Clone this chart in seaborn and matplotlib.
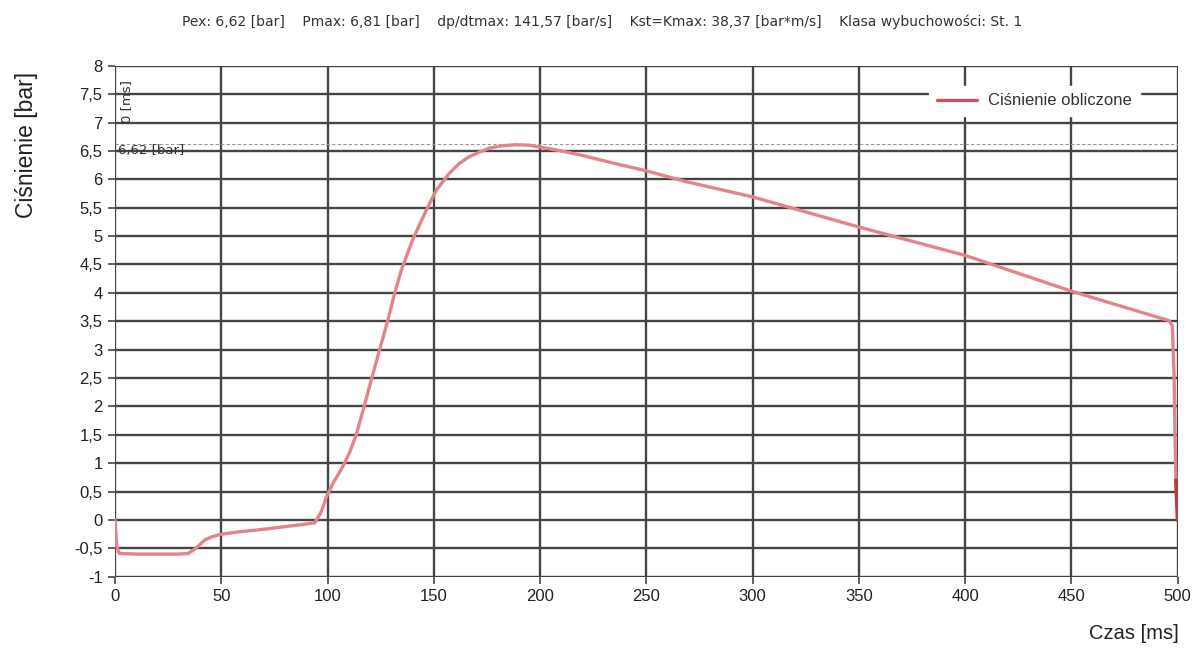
import matplotlib
matplotlib.use("Agg")
import matplotlib.pyplot as plt
import seaborn as sns
import pandas as pd

# data
time_ms = [0, 0.8, 2, 10, 20, 30, 34.4, 38, 42.3, 46, 50, 58, 65.8, 74, 81.4, 88, 94,
           97.1, 99.5, 102.6, 105, 107.3, 110.5, 113.5, 117, 120.6, 124.5, 128.4, 131.5,
           134.7, 140.2, 146.5, 151.2, 157.4, 162, 166.8, 171.5, 176.2, 182, 188.8, 195,
           201, 210, 220, 235, 250, 268.6, 300, 350, 400, 450, 496, 497.5, 498.3, 498.8,
           499.2]
pressure = [0, -0.45, -0.59, -0.6, -0.6, -0.6, -0.59, -0.5, -0.35, -0.29, -0.25, -0.21,
            -0.18, -0.145, -0.11, -0.08, -0.05, 0.15, 0.41, 0.65, 0.8, 0.95, 1.2, 1.5,
            1.97, 2.47, 3.0, 3.52, 3.98, 4.4, 4.95, 5.46, 5.81, 6.11, 6.28, 6.40, 6.48,
            6.55, 6.59, 6.61, 6.6, 6.56, 6.5, 6.42, 6.28, 6.15, 5.96, 5.69, 5.16, 4.66,
            4.03, 3.51, 3.42, 2.6, 1.4, 0.7]
tail_time = [499.2, 499.6, 500]
tail_pressure = [0.7, 0.35, 0.0]

title_text = ("Pex: 6,62 [bar]    Pmax: 6,81 [bar]    dp/dtmax: 141,57 [bar/s]    "
              "Kst=Kmax: 38,37 [bar*m/s]    Klasa wybuchowości: St. 1")
series_name = "Ciśnienie obliczone"
x_ticks = [0, 50, 100, 150, 200, 250, 300, 350, 400, 450, 500]
y_ticks = [-1, -0.5, 0, 0.5, 1, 1.5, 2, 2.5, 3, 3.5, 4, 4.5, 5, 5.5, 6, 6.5, 7, 7.5, 8]

sns.set_style("white")
plt.rcParams['font.family'] = ['Liberation Sans', 'DejaVu Sans']

fig = plt.figure(figsize=(11.98, 6.51), dpi=100)
ax = fig.add_axes([0.096, 0.114, 0.887, 0.785])

df = pd.DataFrame({"Czas": time_ms, "Ciśnienie": pressure})
sns.lineplot(data=df, x="Czas", y="Ciśnienie", ax=ax, color="#e3848b", lw=2.4,
             label=series_name, estimator=None, sort=False)
df2 = pd.DataFrame({"Czas": tail_time, "Ciśnienie": tail_pressure})
sns.lineplot(data=df2, x="Czas", y="Ciśnienie", ax=ax, color="#b83a45", lw=2.8,
             estimator=None, sort=False, legend=False)

ax.set_xlim(0, 500)
ax.set_ylim(-1, 8)
ax.set_xticks(x_ticks)
ax.set_yticks(y_ticks)
ax.set_yticklabels([("%g" % v).replace(".", ",") for v in y_ticks])
ax.grid(True, color="#454545", lw=1.7)
ax.set_axisbelow(True)
for s in ax.spines.values():
    s.set_visible(False)
ax.tick_params(axis='both', length=5, width=1.2, color="#454545", labelsize=12,
               labelcolor="#222222", pad=4, left=True, bottom=True)

ax.axhline(6.62, color="#999999", lw=0.8, ls=(0, (3, 2)), zorder=1)

ax.set_xlabel("Czas [ms]", fontsize=14.5, color="#222222")
ax.xaxis.set_label_coords(0.959, -0.092)
ax.set_ylabel("Ciśnienie [bar]", fontsize=16.5, color="#222222")
ax.yaxis.set_label_coords(-0.072, 0.845)

ax.text(1.2, 6.5, "6,62 [bar]", fontsize=9.5, color="#333333", va="center", ha="left",
        family=['DejaVu Sans'])
ax.text(2.2, 7.0, "0 [ms]", fontsize=9.5, color="#333333", va="bottom", ha="left",
        rotation=90, family=['DejaVu Sans'])

fig.text(0.503, 0.966, title_text, fontsize=10, color="#333333", ha="center",
         va="center", family=['DejaVu Sans'])

leg = ax.legend(loc="upper right", bbox_to_anchor=(0.972, 0.977), frameon=True,
                fontsize=12, handlelength=2.4, handletextpad=0.7, borderpad=0.45,
                labelcolor="#333333")
leg.get_frame().set_facecolor("white")
leg.get_frame().set_edgecolor("white")
leg.get_frame().set_alpha(1)
leg.get_frame().set_boxstyle("square", pad=0.0)
for h in leg.get_lines():
    h.set_color("#c9515c")

fig.savefig("out.png", dpi=100)
